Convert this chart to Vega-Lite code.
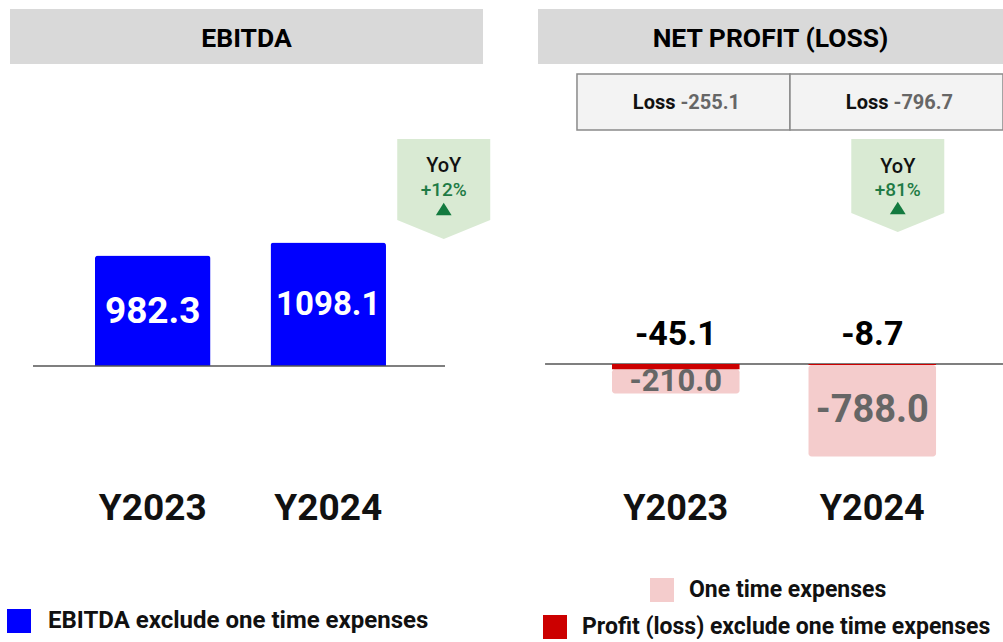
{
  "$schema": "https://vega.github.io/schema/vega-lite/v6.json",
  "padding": {"left": 7, "top": 9, "right": 0, "bottom": 0},
  "background": "#ffffff",
  "config": {"font": "Roboto", "view": {"stroke": null}},
  "datasets": {
    "ebitda": [
      {"year": "Y2023", "value": 982.3, "label": "982.3", "type": "EBITDA exclude one time expenses"},
      {"year": "Y2024", "value": 1098.1, "label": "1098.1", "type": "EBITDA exclude one time expenses"}
    ],
    "ebitda_yoy": [{"year": "Y2024", "title": "YoY", "change": "+12%"}],
    "net": [
      {"year": "Y2023", "type": "Profit (loss) exclude one time expenses", "value": -45.1, "label": "-45.1"},
      {"year": "Y2023", "type": "One time expenses", "value": -210.0, "label": "-210.0"},
      {"year": "Y2024", "type": "Profit (loss) exclude one time expenses", "value": -8.7, "label": "-8.7"},
      {"year": "Y2024", "type": "One time expenses", "value": -788.0, "label": "-788.0"}
    ],
    "net_total": [
      {"year": "Y2023", "prefix": "Loss", "total": "-255.1"},
      {"year": "Y2024", "prefix": "Loss", "total": "-796.7"}
    ],
    "net_yoy": [{"year": "Y2024", "title": "YoY", "change": "+81%"}]
  },
  "columns": 2,
  "spacing": {"row": 10, "column": 55},
  "bounds": "flush",
  "align": "each",
  "resolve": {"scale": {"x": "independent", "y": "independent", "color": "independent", "fill": "independent"}},
  "concat": [
    {
      "width": 473, "height": 55,
      "view": {"fill": "#d9d9d9", "stroke": null},
      "data": {"values": [{"t": "EBITDA"}]},
      "mark": {"type": "text", "fontSize": 26.5, "fontWeight": "bold", "color": "#000000", "baseline": "middle", "dy": 2},
      "encoding": {"text": {"field": "t"}}
    },
    {
      "width": 465, "height": 55,
      "view": {"fill": "#d9d9d9", "stroke": null},
      "data": {"values": [{"t": "NET PROFIT (LOSS)"}]},
      "mark": {"type": "text", "fontSize": 26.5, "fontWeight": "bold", "color": "#000000", "baseline": "middle", "dy": 2},
      "encoding": {"text": {"field": "t"}}
    },
    {
      "width": 473, "height": 56,
      "data": {"values": [{"t": ""}]},
      "mark": {"type": "text"},
      "encoding": {"text": {"field": "t"}}
    },
    {
      "width": 465, "height": 56,
      "data": {"name": "net_total"},
      "layer": [
        {
          "mark": {"type": "rect", "fill": "#f3f3f3", "stroke": "#8a8a8a", "strokeWidth": 1.5},
          "encoding": {
            "x": {"field": "year", "type": "nominal", "scale": {"type": "band", "paddingInner": 0, "paddingOuter": 0.0915, "align": 1, "round": false}, "axis": null}
          }
        },
        {
          "mark": {"type": "text", "align": "right", "dx": -8, "dy": 1, "fontSize": 20, "fontWeight": "bold", "color": "#111111", "baseline": "middle"},
          "encoding": {"x": {"field": "year", "type": "nominal"}, "text": {"field": "prefix"}}
        },
        {
          "mark": {"type": "text", "align": "left", "dx": -3, "dy": 1, "fontSize": 20, "fontWeight": "bold", "color": "#666666", "baseline": "middle"},
          "encoding": {"x": {"field": "year", "type": "nominal"}, "text": {"field": "total"}}
        }
      ]
    },
    {
      "width": 473, "height": 320,
      "layer": [
        {
          "data": {"name": "ebitda"},
          "mark": {"type": "bar", "cornerRadiusTopLeft": 3, "cornerRadiusTopRight": 3},
          "encoding": {
            "x": {
              "field": "year", "type": "nominal",
              "scale": {"type": "band", "paddingInner": 0.342, "paddingOuter": 0.5185, "align": 0.467, "round": false},
              "axis": {"title": null, "domain": false, "ticks": false, "grid": false, "labelAngle": 0, "labelFontSize": 37, "labelFontWeight": "bold", "labelColor": "#111111", "labelPadding": 48, "labelBaseline": "middle"}
            },
            "y": {"field": "value", "type": "quantitative", "scale": {"domain": [-835.6, 2008.9], "nice": false, "zero": false}, "axis": null},
            "color": {
              "field": "type", "type": "nominal",
              "scale": {"range": ["#0000ff"]},
              "legend": {"orient": "none", "legendX": -3, "legendY": 469, "title": null, "symbolType": "square", "symbolSize": 576, "symbolStrokeWidth": 0, "labelFontSize": 24, "labelFontWeight": "bold", "labelColor": "#111111", "labelOffset": 17, "labelLimit": 600, "padding": 0}
            }
          }
        },
        {
          "data": {"values": [{"b": 0}]},
          "mark": {"type": "rule", "color": "#555555", "strokeWidth": 1.5},
          "encoding": {
            "x": {"datum": "Y2023", "type": "nominal", "bandPosition": -0.537},
            "x2": {"datum": "Y2024", "bandPosition": 1.511},
            "y": {"datum": 0, "type": "quantitative"}
          }
        },
        {
          "data": {"name": "ebitda"},
          "transform": [
            {"stack": "value", "groupby": ["year"], "as": ["v0", "v1"]},
            {"fold": ["v0", "v1"], "as": ["k", "v"]}
          ],
          "mark": {"type": "text", "color": "#ffffff", "fontWeight": "bold", "baseline": "middle", "dy": 1},
          "encoding": {
            "x": {"field": "year", "type": "nominal"},
            "y": {"aggregate": "mean", "field": "v", "type": "quantitative"},
            "text": {"field": "label"},
            "size": {"condition": {"test": "datum.year === 'Y2024'", "value": 33}, "value": 37}
          }
        },
        {
          "data": {"name": "ebitda_yoy"},
          "mark": {"type": "point", "shape": "M-1,-1.075L1,-1.075L1,0.667L0,1.075L-1,0.667Z", "size": 8649, "filled": true, "color": "#d9ead3", "opacity": 1, "strokeWidth": 0},
          "encoding": {"x": {"field": "year", "type": "nominal", "bandPosition": 1.5}, "y": {"datum": 1573.3, "type": "quantitative"}}
        },
        {
          "data": {"name": "ebitda_yoy"},
          "mark": {"type": "point", "shape": "M0,0.295L0.17,0.565L-0.17,0.565Z", "size": 8649, "filled": true, "color": "#137a3f", "opacity": 1, "strokeWidth": 0},
          "encoding": {"x": {"field": "year", "type": "nominal", "bandPosition": 1.5}, "y": {"datum": 1573.3, "type": "quantitative"}}
        },
        {
          "data": {"name": "ebitda_yoy"},
          "mark": {"type": "text", "fontSize": 20, "fontWeight": 500, "color": "#111111", "baseline": "middle", "dy": -23},
          "encoding": {"x": {"field": "year", "type": "nominal", "bandPosition": 1.5}, "y": {"datum": 1573.3, "type": "quantitative"}, "text": {"field": "title"}}
        },
        {
          "data": {"name": "ebitda_yoy"},
          "mark": {"type": "text", "fontSize": 19, "fontWeight": 500, "color": "#1e7b45", "baseline": "middle", "dy": 1},
          "encoding": {"x": {"field": "year", "type": "nominal", "bandPosition": 1.5}, "y": {"datum": 1573.3, "type": "quantitative"}, "text": {"field": "change"}}
        }
      ]
    },
    {
      "width": 465, "height": 320,
      "data": {"name": "net"},
      "transform": [
        {"stack": "value", "groupby": ["year"], "sort": [{"field": "type", "order": "descending"}], "as": ["v0", "v1"]}
      ],
      "layer": [
        {
          "transform": [{"filter": "datum.type === 'One time expenses'"}],
          "mark": {"type": "bar", "cornerRadius": 3},
          "encoding": {
            "x": {
              "field": "year", "type": "nominal",
              "scale": {"type": "band", "paddingInner": 0.351, "paddingOuter": 0.3587, "align": 0.525, "round": false},
              "axis": {"title": null, "domain": false, "ticks": false, "grid": false, "labelAngle": 0, "labelFontSize": 36, "labelFontWeight": "bold", "labelColor": "#111111", "labelPadding": 48, "labelBaseline": "middle"}
            },
            "y": {"field": "v0", "type": "quantitative", "scale": {"domain": [-827.6, 1931], "nice": false, "zero": false}, "axis": null},
            "y2": {"field": "v1"},
            "color": {
              "field": "type", "type": "nominal",
              "scale": {"range": ["#f4cccc"]},
              "legend": {"orient": "none", "legendX": 112, "legendY": 438, "title": null, "symbolType": "square", "symbolSize": 576, "symbolStrokeWidth": 0, "labelFontSize": 23, "labelFontWeight": "bold", "labelColor": "#111111", "labelOffset": 15, "labelLimit": 600, "padding": 0}
            }
          }
        },
        {
          "data": {"values": [{"b": 0}]},
          "mark": {"type": "rule", "color": "#555555", "strokeWidth": 1.5},
          "encoding": {
            "x": {"datum": "Y2023", "type": "nominal", "bandPosition": -0.525},
            "x2": {"datum": "Y2024", "bandPosition": 1.525},
            "y": {"datum": 0, "type": "quantitative"}
          }
        },
        {
          "transform": [{"filter": "datum.type === 'Profit (loss) exclude one time expenses'"}],
          "mark": {"type": "bar"},
          "encoding": {
            "x": {"field": "year", "type": "nominal"},
            "y": {"field": "v0", "type": "quantitative"},
            "y2": {"field": "v1"},
            "fill": {
              "field": "type", "type": "nominal",
              "scale": {"range": ["#cc0000"]},
              "legend": {"orient": "none", "legendX": 5, "legendY": 475, "title": null, "symbolType": "square", "symbolSize": 576, "symbolStrokeWidth": 0, "labelFontSize": 23, "labelFontWeight": "bold", "labelColor": "#111111", "labelOffset": 15, "labelLimit": 600, "padding": 0}
            }
          }
        },
        {
          "transform": [{"filter": "datum.type === 'Profit (loss) exclude one time expenses'"}],
          "mark": {"type": "text", "fontSize": 34, "fontWeight": "bold", "color": "#000000", "baseline": "middle", "dy": -29},
          "encoding": {
            "x": {"field": "year", "type": "nominal"},
            "y": {"datum": 0, "type": "quantitative"},
            "text": {"field": "label"}
          }
        },
        {
          "transform": [
            {"filter": "datum.type === 'One time expenses'"},
            {"fold": ["v0", "v1"], "as": ["k", "v"]}
          ],
          "mark": {"type": "text", "fontWeight": "bold", "color": "#666666", "baseline": "middle", "dy": 0.5},
          "encoding": {
            "x": {"field": "year", "type": "nominal"},
            "y": {"aggregate": "mean", "field": "v", "type": "quantitative"},
            "text": {"field": "label"},
            "size": {"condition": {"test": "datum.year === 'Y2023'", "value": 31}, "value": 38}
          }
        },
        {
          "data": {"name": "net_yoy"},
          "mark": {"type": "point", "shape": "M-1,-1L1,-1L1,0.591L0,1L-1,0.591Z", "size": 8649, "filled": true, "color": "#d9ead3", "opacity": 1, "strokeWidth": 0},
          "encoding": {"x": {"field": "year", "type": "nominal", "bandPosition": 0.7}, "y": {"datum": 1538.8, "type": "quantitative"}}
        },
        {
          "data": {"name": "net_yoy"},
          "mark": {"type": "point", "shape": "M0,0.35L0.17,0.62L-0.17,0.62Z", "size": 8649, "filled": true, "color": "#137a3f", "opacity": 1, "strokeWidth": 0},
          "encoding": {"x": {"field": "year", "type": "nominal", "bandPosition": 0.7}, "y": {"datum": 1538.8, "type": "quantitative"}}
        },
        {
          "data": {"name": "net_yoy"},
          "mark": {"type": "text", "fontSize": 20, "fontWeight": 500, "color": "#111111", "baseline": "middle", "dy": -18.5},
          "encoding": {"x": {"field": "year", "type": "nominal", "bandPosition": 0.7}, "y": {"datum": 1538.8, "type": "quantitative"}, "text": {"field": "title"}}
        },
        {
          "data": {"name": "net_yoy"},
          "mark": {"type": "text", "fontSize": 19, "fontWeight": 500, "color": "#1e7b45", "baseline": "middle", "dy": 4.5},
          "encoding": {"x": {"field": "year", "type": "nominal", "bandPosition": 0.7}, "y": {"datum": 1538.8, "type": "quantitative"}, "text": {"field": "change"}}
        }
      ]
    }
  ]
}
